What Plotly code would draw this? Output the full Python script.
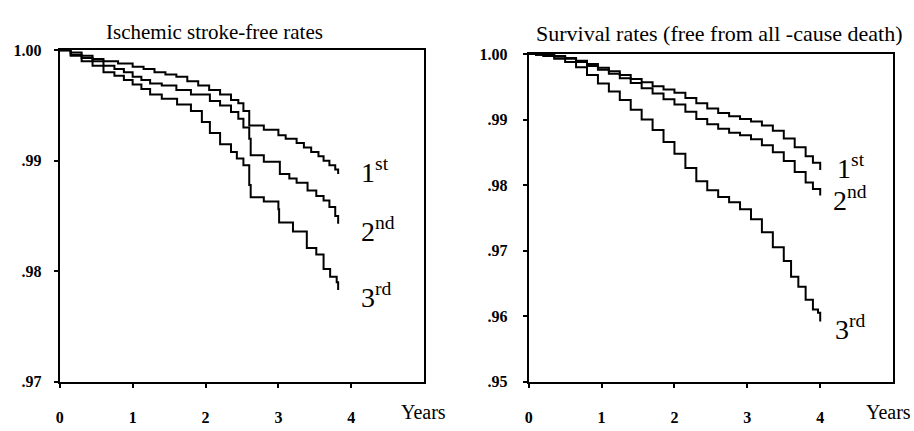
import plotly.graph_objects as go

# ---- Data ----
# Left: Ischemic stroke-free rates
L1_t = [0, 0.15, 0.3, 0.45, 0.6, 0.8, 1.0, 1.15, 1.3, 1.45, 1.6, 1.75, 1.9, 2.05, 2.2, 2.35, 2.45, 2.52, 2.6, 2.8, 3.0, 3.1, 3.25, 3.35, 3.45, 3.55, 3.62, 3.7, 3.78, 3.82]
L1_v = [1.0, 0.9998, 0.9995, 0.9992, 0.9990, 0.9988, 0.9985, 0.9983, 0.9980, 0.9978, 0.9976, 0.9972, 0.9968, 0.9964, 0.9960, 0.9955, 0.9952, 0.9945, 0.9932, 0.9928, 0.9923, 0.9920, 0.9916, 0.9912, 0.9908, 0.9904, 0.9900, 0.9896, 0.9892, 0.9888]

L2_t = [0, 0.15, 0.3, 0.45, 0.6, 0.75, 0.88, 1.0, 1.12, 1.24, 1.4, 1.6, 1.8, 2.06, 2.2, 2.35, 2.45, 2.52, 2.6, 2.62, 2.8, 3.02, 3.15, 3.25, 3.4, 3.52, 3.62, 3.7, 3.78, 3.82]
L2_v = [1.0, 0.9996, 0.9993, 0.9990, 0.9986, 0.9983, 0.9980, 0.9976, 0.9973, 0.9970, 0.9968, 0.9964, 0.9960, 0.9954, 0.9950, 0.9944, 0.9938, 0.9930, 0.9920, 0.9905, 0.9899, 0.9888, 0.9884, 0.9880, 0.9873, 0.9868, 0.9864, 0.9858, 0.9850, 0.9843]

L3_t = [0, 0.15, 0.3, 0.45, 0.6, 0.75, 0.88, 1.0, 1.12, 1.24, 1.4, 1.61, 1.8, 1.95, 2.06, 2.2, 2.35, 2.43, 2.52, 2.6, 2.62, 2.8, 3.0, 3.01, 3.2, 3.39, 3.52, 3.62, 3.71, 3.8, 3.82]
L3_v = [1.0, 0.9995, 0.9990, 0.9986, 0.9980, 0.9977, 0.9973, 0.9969, 0.9965, 0.9960, 0.9956, 0.9951, 0.9945, 0.9935, 0.9925, 0.9915, 0.9908, 0.9902, 0.9896, 0.9878, 0.9867, 0.9863, 0.9856, 0.9844, 0.9836, 0.9821, 0.9815, 0.9802, 0.9795, 0.9790, 0.9783]

# Right: Survival rates (free from all-cause death)
R1_t = [0, 0.1, 0.2, 0.35, 0.5, 0.65, 0.8, 0.95, 1.1, 1.25, 1.4, 1.55, 1.7, 1.85, 2.0, 2.15, 2.3, 2.45, 2.6, 2.75, 2.9, 3.05, 3.2, 3.35, 3.5, 3.65, 3.8, 3.9, 4.0]
R1_v = [1.0, 0.99995, 0.9999, 0.9997, 0.9994, 0.9990, 0.9985, 0.9979, 0.9974, 0.9968, 0.9962, 0.9957, 0.9951, 0.9946, 0.9941, 0.9933, 0.9925, 0.9917, 0.9910, 0.9905, 0.9901, 0.9897, 0.9891, 0.9883, 0.9871, 0.9858, 0.9844, 0.9834, 0.9823]

R2_t = [0, 0.1, 0.2, 0.35, 0.5, 0.65, 0.8, 0.95, 1.1, 1.25, 1.4, 1.55, 1.7, 1.85, 2.0, 2.15, 2.3, 2.45, 2.6, 2.75, 2.9, 3.05, 3.2, 3.35, 3.5, 3.65, 3.8, 3.9, 4.0]
R2_v = [1.0, 0.99995, 0.9999, 0.9996, 0.9993, 0.9988, 0.9982, 0.9976, 0.9970, 0.9963, 0.9956, 0.9948, 0.9940, 0.9931, 0.9923, 0.9912, 0.9901, 0.9893, 0.9886, 0.9880, 0.9876, 0.9870, 0.9861, 0.9850, 0.9837, 0.9820, 0.9804, 0.9794, 0.9784]

R3_t = [0, 0.1, 0.2, 0.35, 0.5, 0.65, 0.8, 0.95, 1.1, 1.25, 1.4, 1.55, 1.7, 1.85, 2.0, 2.15, 2.3, 2.45, 2.6, 2.75, 2.9, 3.05, 3.2, 3.35, 3.5, 3.6, 3.7, 3.8, 3.9, 3.97, 4.0]
R3_v = [1.0, 0.9999, 0.9997, 0.9993, 0.9988, 0.9980, 0.9968, 0.9955, 0.9943, 0.9930, 0.9915, 0.9900, 0.9884, 0.9866, 0.9848, 0.9826, 0.9806, 0.9792, 0.9782, 0.9774, 0.9763, 0.9748, 0.9728, 0.9705, 0.9684, 0.9660, 0.9645, 0.9625, 0.9610, 0.9605, 0.9592]

x_ticks = [0, 1, 2, 3, 4]
L_yticks = [0.97, 0.98, 0.99, 1.00]
L_ytext = [".97", ".98", ".99", "1.00"]
R_yticks = [0.95, 0.96, 0.97, 0.98, 0.99, 1.00]
R_ytext = [".95", ".96", ".97", ".98", ".99", "1.00"]

labels = ["1<sup>st</sup>", "2<sup>nd</sup>", "3<sup>rd</sup>"]
L_lab_x = [4.32, 4.37, 4.35]
L_lab_y = [0.9891, 0.9838, 0.9778]
R_lab_x = [4.42, 4.41, 4.41]
R_lab_y = [0.9828, 0.9780, 0.9583]

SERIF = "Liberation Serif"
fig = go.Figure()
line = dict(color="black", width=2, shape="hv")
for t, v in [(L1_t, L1_v), (L2_t, L2_v), (L3_t, L3_v)]:
    fig.add_trace(go.Scatter(x=t, y=v, mode="lines", line=line, xaxis="x", yaxis="y", showlegend=False))
for t, v in [(R1_t, R1_v), (R2_t, R2_v), (R3_t, R3_v)]:
    fig.add_trace(go.Scatter(x=t, y=v, mode="lines", line=line, xaxis="x2", yaxis="y2", showlegend=False))

ax_common = dict(showgrid=False, zeroline=False, showline=True, linecolor="black", linewidth=2,
                 mirror=True, ticks="outside", ticklen=4, tickwidth=1.5, tickcolor="black",
                 tickfont=dict(family=SERIF, size=16, color="black", weight="bold"))

fig.update_layout(
    width=914, height=431, margin=dict(l=0, r=0, t=0, b=0),
    paper_bgcolor="white", plot_bgcolor="white",
    xaxis=dict(domain=[56/914, 422/914], range=[0, 5], tickvals=x_ticks, anchor="y",
               ticklabelstandoff=16, **ax_common),
    yaxis=dict(domain=[1-389/431, 1-44/431], range=[0.97, 1.0], tickvals=L_yticks, ticktext=L_ytext,
               anchor="x", ticklabelstandoff=9, **ax_common),
    xaxis2=dict(domain=[527/914, 893/914], range=[0, 5], tickvals=x_ticks, anchor="y2",
                ticklabelstandoff=16, **ax_common),
    yaxis2=dict(domain=[1-389/431, 1-48/431], range=[0.95, 1.0], tickvals=R_yticks, ticktext=R_ytext,
                anchor="x2", ticklabelstandoff=12, **ax_common),
)

ann = []
for lab, x, y in zip(labels, L_lab_x, L_lab_y):
    ann.append(dict(x=x, y=y, xref="x", yref="y", text=lab, showarrow=False,
                    xanchor="center", yanchor="middle",
                    font=dict(family=SERIF, size=28, color="black")))
for lab, x, y in zip(labels, R_lab_x, R_lab_y):
    ann.append(dict(x=x, y=y, xref="x2", yref="y2", text=lab, showarrow=False,
                    xanchor="center", yanchor="middle",
                    font=dict(family=SERIF, size=28, color="black")))
ann.append(dict(x=211/914, y=1-25/431, xref="paper", yref="paper", text="Ischemic stroke-free rates",
                xanchor="center", yanchor="middle",
                showarrow=False, font=dict(family=SERIF, size=21, color="black")))
ann.append(dict(x=719/914, y=1-27/431, xref="paper", yref="paper", text="Survival rates (free from all -cause death)",
                xanchor="center", yanchor="middle",
                showarrow=False, font=dict(family=SERIF, size=22, color="black")))
ann.append(dict(x=421/914, y=1-421/431, xref="paper", yref="paper", text="Years",
                xanchor="center", yanchor="middle",
                showarrow=False, font=dict(family=SERIF, size=20, color="black")))
ann.append(dict(x=888/914, y=1-421/431, xref="paper", yref="paper", text="Years",
                xanchor="center", yanchor="middle",
                showarrow=False, font=dict(family=SERIF, size=20, color="black")))
fig.update_layout(annotations=ann)

fig.write_html("out.html", config={"displayModeBar": False},
               post_script="document.body.style.margin='0';document.body.style.overflow='hidden';")
